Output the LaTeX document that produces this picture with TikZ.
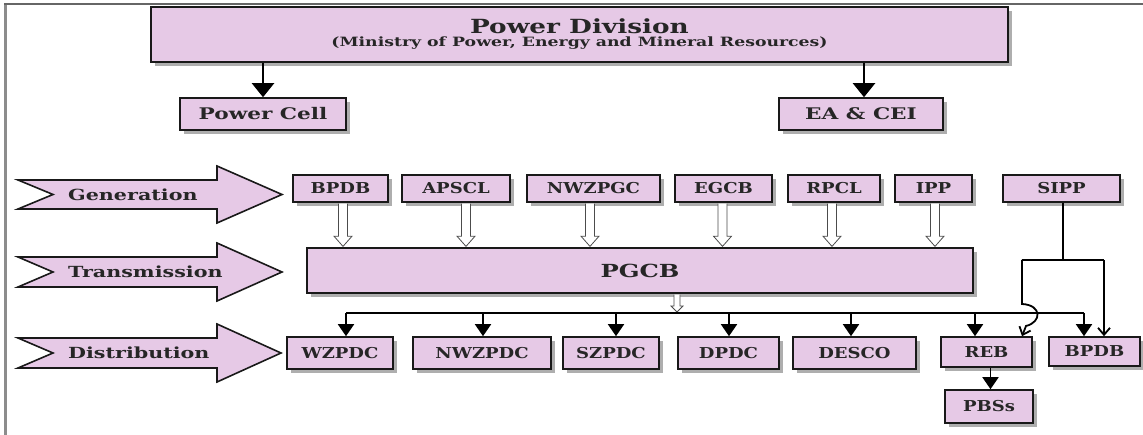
\documentclass[tikz,border=0pt]{standalone}
\usepackage{fontspec}
\newfontfamily\dfont[FakeStretch=1.35]{DejaVu Serif}
\newfontfamily\efont[FakeStretch=1.2]{DejaVu Serif}
\usetikzlibrary{shadows,arrows.meta,calc}
\definecolor{boxfill}{RGB}{230,201,230}
\definecolor{shade}{RGB}{140,140,140}
\tikzset{
  box/.style={draw=black!90, line width=1.6pt, fill=boxfill, inner sep=0pt, text=black!85,
    font=\efont\bfseries\fontsize{15}{17}\selectfont,
    drop shadow={shadow xshift=4pt, shadow yshift=-4pt, fill=shade, opacity=0.7}},
  bigarrow/.style={draw=black!90, line width=1.6pt, fill=boxfill, line join=miter},
  arrowlabel/.style={font=\dfont\bfseries\fontsize{15.3}{17}\selectfont, text=black!85, inner sep=0pt, anchor=west},
  thickarrow/.style={line width=2.4pt, -{Triangle[length=14pt,width=22pt]}},
  droparrow/.style={line width=1.8pt, -{Triangle[length=12pt,width=16pt]}},
  barb/.style={line width=1.8pt, -{Straight Barb[length=7pt,width=12pt]}},
  conn/.style={line width=1.8pt},
  hollow/.style={draw=black!70, line width=0.8pt, fill=white},
}
\newcommand\harrow[2]{%
 \draw[hollow] let \p1=#1, \p2=#2 in
  (\x1-4.5pt,\y1-0.8pt) -- (\x1-4.5pt,\y2+11pt) -- (\x1-9pt,\y2+11pt) -- (\x1,\y2+0.8pt)
  -- (\x1+9pt,\y2+11pt) -- (\x1+4.5pt,\y2+11pt) -- (\x1+4.5pt,\y1-0.8pt);}
\newcommand\sharrow[2]{%
 \draw[hollow] let \p1=#1, \p2=#2 in
  (\x1-3pt,\y1-0.8pt) -- (\x1-3pt,\y2+7pt) -- (\x1-6pt,\y2+7pt) -- (\x1,\y2+1pt)
  -- (\x1+6pt,\y2+7pt) -- (\x1+3pt,\y2+7pt) -- (\x1+3pt,\y1-0.8pt);}
\begin{document}
\begin{tikzpicture}[x=1pt,y=-1pt]
\useasboundingbox (0,0) rectangle (1143,435);
% frame
\draw[black!45, line width=3pt] (5,435) -- (5,4);
\draw[black!60, line width=1.2pt] (4,4) -- (1143,4);

% top level
\node[box, minimum width=857pt, minimum height=55pt, align=center, font=\dfont\bfseries] (pd) at (579.5,34.5)
  {{\fontsize{19.5}{20}\selectfont Power Division}\\[1pt]{\fontsize{12.8}{13}\selectfont (Ministry of Power, Energy and Mineral Resources)}};
\node[box, minimum width=166pt, minimum height=32pt, font=\dfont\bfseries\fontsize{16}{18}\selectfont] (pcell) at (263,114) {Power Cell};
\node[box, minimum width=164pt, minimum height=32pt, font=\dfont\bfseries\fontsize{16}{18}\selectfont] (eacei) at (861,114) {EA \& CEI};
\draw[thickarrow] (pcell.north |- pd.south) -- (pcell.north);
\draw[thickarrow] ([xshift=3pt]eacei.north |- pd.south) -- ([xshift=3pt]eacei.north);

% big arrows
\draw[bigarrow] (18,180) -- (217,180) -- (217,166) -- (282,194.5) -- (217,223) -- (217,209) -- (18,209) -- (53,194.5) -- cycle;
\node[arrowlabel] (lgen) at (68,194.5) {Generation};
\draw[bigarrow] (18,257) -- (217,257) -- (217,243) -- (282,272) -- (217,301) -- (217,287) -- (18,287) -- (53,272) -- cycle;
\node[arrowlabel] (ltra) at (68,272) {Transmission};
\draw[bigarrow] (18,338) -- (217,338) -- (217,324) -- (281,353) -- (217,382) -- (217,368) -- (18,368) -- (53,353) -- cycle;
\node[arrowlabel] (ldis) at (68,353) {Distribution};

% generation row
\node[box, minimum width=95pt, minimum height=27pt] (bpdba) at (340.5,188.5) {BPDB};
\node[box, minimum width=108pt, minimum height=27pt] (apscl) at (456,188.5) {APSCL};
\node[box, minimum width=133pt, minimum height=27pt] (nwzpgc) at (593.5,188.5) {NWZPGC};
\node[box, minimum width=97pt, minimum height=27pt] (egcb) at (723.5,188.5) {EGCB};
\node[box, minimum width=92pt, minimum height=27pt] (rpcl) at (834,188.5) {RPCL};
\node[box, minimum width=77pt, minimum height=27pt] (ipp) at (933.5,188.5) {IPP};
\node[box, minimum width=117pt, minimum height=27pt] (sipp) at (1061.5,188.5) {SIPP};

% transmission
\node[box, minimum width=666pt, minimum height=45pt, font=\dfont\bfseries\fontsize{18}{20}\selectfont] (pgcb) at (640,270.5) {PGCB};

\harrow{([xshift=2.5pt]bpdba.south)}{([xshift=2.5pt]bpdba.south |- pgcb.north)}
\harrow{([xshift=10pt]apscl.south)}{([xshift=10pt]apscl.south |- pgcb.north)}
\harrow{([xshift=-3.5pt]nwzpgc.south)}{([xshift=-3.5pt]nwzpgc.south |- pgcb.north)}
\harrow{([xshift=-1pt]egcb.south)}{([xshift=-1pt]egcb.south |- pgcb.north)}
\harrow{([xshift=-2pt]rpcl.south)}{([xshift=-2pt]rpcl.south |- pgcb.north)}
\harrow{([xshift=1.5pt]ipp.south)}{([xshift=1.5pt]ipp.south |- pgcb.north)}

% distribution row
\node[box, minimum width=106pt, minimum height=32pt] (wzpdc) at (340,353) {WZPDC};
\node[box, minimum width=138pt, minimum height=32pt] (nwzpdc) at (482,353) {NWZPDC};
\node[box, minimum width=96pt, minimum height=32pt] (szpdc) at (611,353) {SZPDC};
\node[box, minimum width=101pt, minimum height=32pt] (dpdc) at (728.5,353) {DPDC};
\node[box, minimum width=123pt, minimum height=32pt] (desco) at (854.5,353) {DESCO};
\node[box, minimum width=91pt, minimum height=30pt] (reb) at (986.5,352) {REB};
\node[box, minimum width=91pt, minimum height=29pt] (bpdbb) at (1094.5,351.5) {BPDB};
\node[box, minimum width=88pt, minimum height=33pt] (pbss) at (989,406.5) {PBSs};

\coordinate (bus) at (0,313);
\coordinate (jl) at (1022,260);
\coordinate (jr) at (1104,260);
\sharrow{([xshift=37pt]pgcb.south)}{([xshift=37pt]pgcb.south |- bus)}
\draw[conn] ([xshift=6pt]wzpdc.north |- bus) -- ([xshift=-10.5pt]bpdbb.north |- bus);
\draw[droparrow] ([xshift=6pt]wzpdc.north |- bus) -- ([xshift=6pt]wzpdc.north);
\draw[droparrow] ([xshift=1pt]nwzpdc.north |- bus) -- ([xshift=1pt]nwzpdc.north);
\draw[droparrow] ([xshift=5pt]szpdc.north |- bus) -- ([xshift=5pt]szpdc.north);
\draw[droparrow] ([xshift=0.5pt]dpdc.north |- bus) -- ([xshift=0.5pt]dpdc.north);
\draw[droparrow] ([xshift=-3.5pt]desco.north |- bus) -- ([xshift=-3.5pt]desco.north);
\draw[droparrow] ([xshift=-11.5pt]reb.north |- bus) -- ([xshift=-11.5pt]reb.north);
\draw[droparrow] ([xshift=-10.5pt]bpdbb.north |- bus) -- ([xshift=-10.5pt]bpdbb.north);
\draw[droparrow] ([xshift=4pt]reb.south) -- ([xshift=4pt]reb.south |- pbss.north);

% SIPP links
\draw[conn] ([xshift=1.5pt]sipp.south) -- ([xshift=1.5pt]sipp.south |- jl);
\draw[conn, line join=miter] (jl) -- (jr);
\draw[barb] (jr) -- (jr |- bpdbb.north);
\draw[barb] (jl) -- (1022,304) .. controls (1042,305) and (1042,322) .. (1026,326) -- (jl |- reb.north);
\end{tikzpicture}
\end{document}
